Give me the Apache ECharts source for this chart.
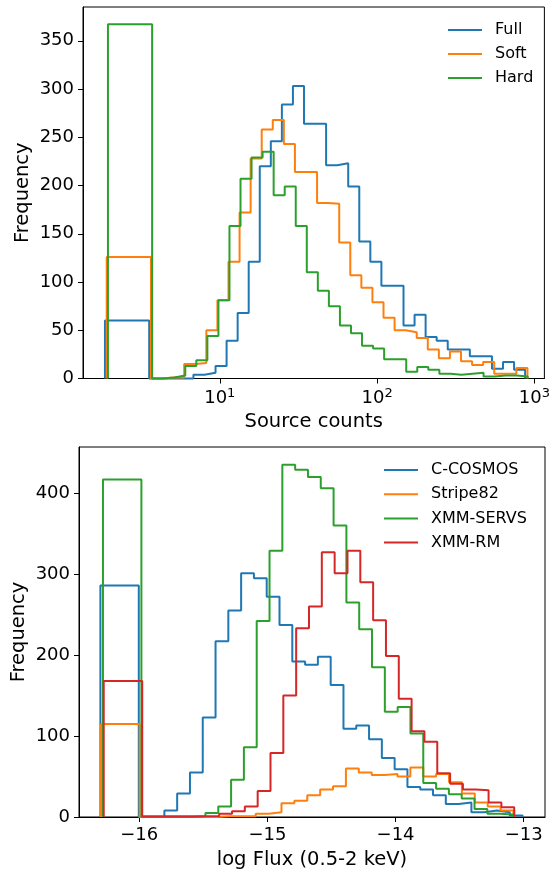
<!DOCTYPE html>
<html><head><meta charset="utf-8">
<script src="https://cdn.jsdelivr.net/npm/echarts@6/dist/echarts.min.js"></script>
<style>html,body{margin:0;padding:0;background:#fff}#c{width:553px;height:871px}</style>
</head><body><div id="c"></div>
<script>
// ---------- Top panel: source counts (log-spaced bins, [first edge, last edge] in counts) ----------
const topNames = ['Full', 'Soft', 'Hard'];
const fullRange = [1.862, 873];
const fullCounts = [60,60,60,60,0,0,0,0,4,6,13,39,68,121,220,246,284,303,264,264,221,223,199,142,121,96,96,55,66,43,39,30,30,23,23,10,17,9];
const softRange = [1.910, 903];
const softCounts = [126,126,126,126,0,1,1,15,16,50,81,121,172,228,258,268,243,214,214,182,181,141,107,94,79,63,50,48,42,30,21,28,18,14,17,5,5,11];
const hardRange = [1.945, 907];
const hardCounts = [367,367,367,367,0,1,3,13,19,44,81,158,207,229,235,190,199,158,110,91,75,55,47,34,31,20,20,7,12,9,5,4,5,6,2,3,3,2];
const topXLim = [1.35, 1157];
const topXTicks = [10, 100, 1000];
const topYLim = [0, 385];
const topYTicks = [0, 50, 100, 150, 200, 250, 300, 350];

// ---------- Bottom panel: log flux (0.5-2 keV), [first edge, last edge] ----------
const bottomNames = ['C-COSMOS', 'Stripe82', 'XMM-SERVS', 'XMM-RM'];
const ccosmosRange = [-16.303, -13.009];
const ccosmosCounts = [286,286,286,0,0,8,29,55,123,217,255,301,295,272,237,192,188,198,163,109,113,96,73,59,37,34,27,16,18,6,8,6,2];
const stripeRange = [-16.298, -13.080];
const stripeCounts = [115,115,115,0,0,0,0,0,0,1,1,1,4,6,17,20,27,34,38,60,55,52,53,50,61,50,53,43,29,18,13,8];
const servsRange = [-16.283, -13.084];
const servsCounts = [417,417,417,0,0,0,0,1,5,13,46,86,242,329,435,429,420,406,360,265,232,185,130,136,103,42,35,28,23,10,4,3];
const rmRange = [-16.277, -13.074];
const rmCounts = [168,168,168,1,1,1,1,1,1,4,7,13,32,79,150,233,260,327,301,329,290,243,199,146,106,93,54,41,34,33,18,12];
const botXLim = [-16.47, -12.834];
const botXTicks = [-16, -15, -14, -13];
const botYLim = [0, 457];
const botYTicks = [0, 100, 200, 300, 400];

const COLORS = ['#1f77b4', '#ff7f0e', '#2ca02c', '#d62728'];
const FONT = 'DejaVu Sans';

// histogram outline (matplotlib histtype="step") from equal-width bins between lo and hi
function stepData(lo, hi, counts) {
  const n = counts.length, w = (hi - lo) / n;
  const d = [[lo, 0]];
  counts.forEach((c, i) => d.push([lo + i * w, c]));
  d.push([hi, 0]);
  return d;
}
const lg = Math.log10;

function histSeries(name, data, color, idx) {
  return {
    name: name, type: 'line', step: 'end', data: data,
    xAxisIndex: idx, yAxisIndex: idx,
    symbol: 'none', showSymbol: false,
    lineStyle: { color: color, width: 2 }, itemStyle: { color: color },
    clip: false
  };
}

const axisLineStyle = { show: true, lineStyle: { color: '#000', width: 1 } };
const tickStyle = (vals) => ({ show: true, length: 5, lineStyle: { color: '#000', width: 1 }, customValues: vals });
const legendText = { fontSize: 16, lineHeight: 16, color: '#000', fontFamily: FONT, padding: [0, 0, 0, 8] };
const nameStyle = { fontSize: 19.5, color: '#000', fontFamily: FONT };

const chart = echarts.init(document.getElementById('c'), null, { renderer: 'canvas' });
chart.setOption({
  animation: false,
  backgroundColor: '#fff',
  textStyle: { fontFamily: FONT },
  grid: [
    { left: 83, right: 8, top: 7, height: 371.5, show: true, borderColor: '#000', borderWidth: 1, backgroundColor: 'transparent' },
    { left: 79, right: 8, top: 447, height: 372, show: true, borderColor: '#000', borderWidth: 1, backgroundColor: 'transparent' }
  ],
  xAxis: [
    {
      type: 'value', gridIndex: 0, min: lg(topXLim[0]), max: lg(topXLim[1]),
      axisLine: axisLineStyle, splitLine: { show: false },
      axisTick: tickStyle(topXTicks.map(lg)),
      axisLabel: {
        customValues: topXTicks.map(lg), margin: 9, color: '#000',
        formatter: v => '{b|10}{e|' + Math.round(v) + '}',
        rich: {
          b: { fontSize: 18, fontFamily: FONT, color: '#000', lineHeight: 22 },
          e: { fontSize: 13, fontFamily: FONT, color: '#000', verticalAlign: 'top', lineHeight: 14 }
        }
      },
      name: 'Source counts', nameLocation: 'middle', nameGap: 33, nameMoveOverlap: false,
      nameTextStyle: nameStyle
    },
    {
      type: 'value', gridIndex: 1, min: botXLim[0], max: botXLim[1],
      axisLine: axisLineStyle, splitLine: { show: false },
      axisTick: tickStyle(botXTicks),
      axisLabel: {
        customValues: botXTicks, margin: 9, color: '#000', fontSize: 18, fontFamily: FONT,
        formatter: v => (v < 0 ? '\u2212' + Math.abs(v) : String(v))
      },
      name: 'log Flux (0.5-2 keV)', nameLocation: 'middle', nameGap: 33, nameMoveOverlap: false,
      nameTextStyle: nameStyle
    }
  ],
  yAxis: [
    {
      type: 'value', gridIndex: 0, min: topYLim[0], max: topYLim[1],
      axisLine: axisLineStyle, splitLine: { show: false },
      axisTick: tickStyle(topYTicks),
      axisLabel: { customValues: topYTicks, margin: 9, color: '#000', fontSize: 18, fontFamily: FONT },
      name: 'Frequency', nameLocation: 'middle', nameGap: 50, nameMoveOverlap: false,
      nameTextStyle: nameStyle
    },
    {
      type: 'value', gridIndex: 1, min: botYLim[0], max: botYLim[1],
      axisLine: axisLineStyle, splitLine: { show: false },
      axisTick: tickStyle(botYTicks),
      axisLabel: { customValues: botYTicks, margin: 9, color: '#000', fontSize: 18, fontFamily: FONT },
      name: 'Frequency', nameLocation: 'middle', nameGap: 50, nameMoveOverlap: false,
      nameTextStyle: nameStyle
    }
  ],
  legend: [
    {
      data: topNames, orient: 'vertical', left: 448, top: 22, padding: 0,
      icon: 'rect', itemWidth: 34, itemHeight: 2, itemGap: 8, textStyle: legendText
    },
    {
      data: bottomNames, orient: 'vertical', left: 384, top: 462, padding: 0,
      icon: 'rect', itemWidth: 34, itemHeight: 2, itemGap: 8.2, textStyle: legendText
    }
  ],
  series: [
    histSeries(topNames[0], stepData(lg(fullRange[0]), lg(fullRange[1]), fullCounts), COLORS[0], 0),
    histSeries(topNames[1], stepData(lg(softRange[0]), lg(softRange[1]), softCounts), COLORS[1], 0),
    histSeries(topNames[2], stepData(lg(hardRange[0]), lg(hardRange[1]), hardCounts), COLORS[2], 0),
    histSeries(bottomNames[0], stepData(ccosmosRange[0], ccosmosRange[1], ccosmosCounts), COLORS[0], 1),
    histSeries(bottomNames[1], stepData(stripeRange[0], stripeRange[1], stripeCounts), COLORS[1], 1),
    histSeries(bottomNames[2], stepData(servsRange[0], servsRange[1], servsCounts), COLORS[2], 1),
    histSeries(bottomNames[3], stepData(rmRange[0], rmRange[1], rmCounts), COLORS[3], 1)
  ]
});
</script>
</body></html>
